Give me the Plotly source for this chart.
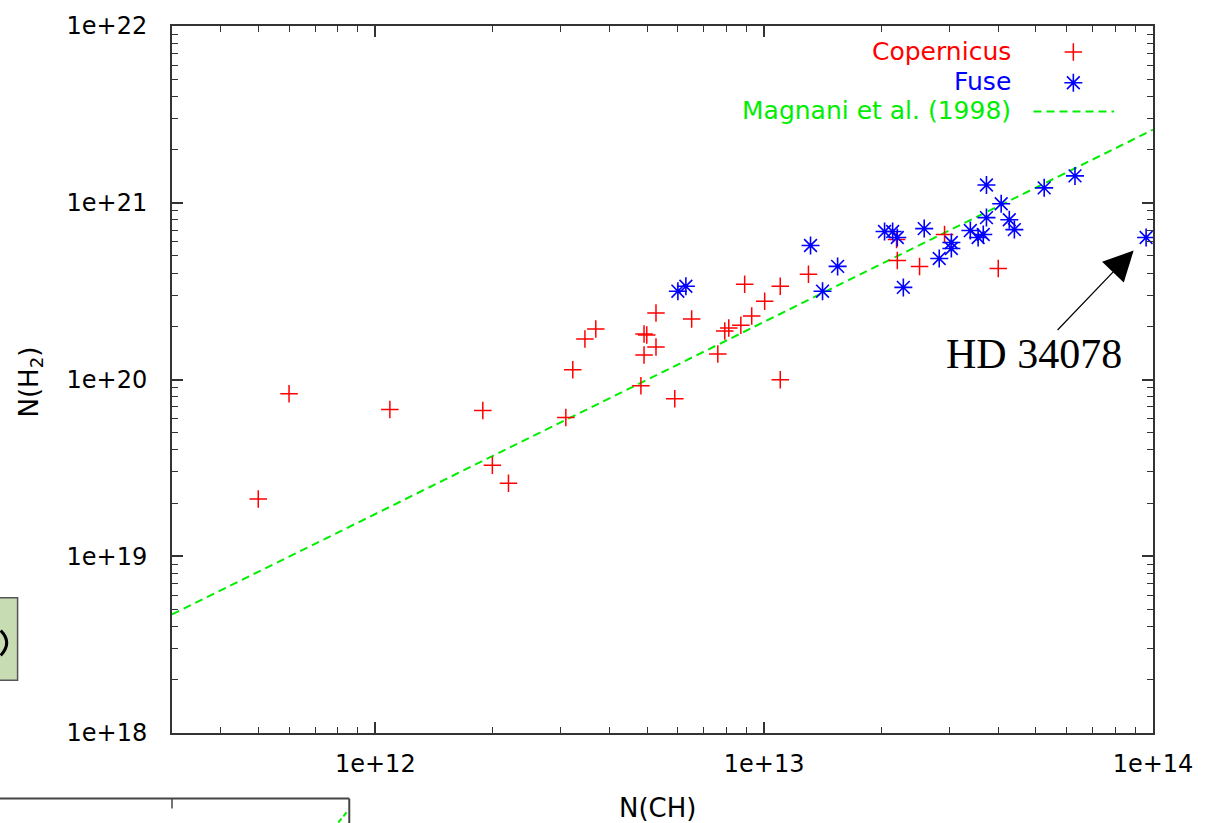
import numpy as np
import plotly.graph_objects as go

# Copernicus sight lines: N(CH) and N(H2) in cm^-2
cop_ch = [5.0e11, 6.0e11, 1.09e12, 1.89e12, 2.0e12, 2.2e12, 3.09e12, 3.22e12,
          3.46e12, 3.69e12, 4.82e12, 4.91e12, 4.91e12, 4.99e12, 5.27e12, 5.27e12,
          5.89e12, 6.51e12, 7.60e12, 7.92e12, 8.11e12, 8.71e12, 9.29e12, 1.003e13,
          8.91e12, 1.10e13, 1.10e13, 1.30e13, 2.19e13, 2.20e13, 2.51e13, 2.91e13,
          4.0e13]
cop_h2 = [2.11e19, 8.31e19, 6.76e19, 6.67e19, 3.27e19, 2.59e19, 6.09e19, 1.135e20,
          1.695e20, 1.93e20, 9.22e19, 1.378e20, 1.81e20, 1.787e20, 1.528e20, 2.375e20,
          7.79e19, 2.197e20, 1.396e20, 1.88e20, 1.954e20, 2.03e20, 2.285e20, 2.77e20,
          3.46e20, 3.37e20, 9.97e19, 3.94e20, 6.19e20, 4.72e20, 4.365e20, 6.61e20,
          4.25e20]

# FUSE sight lines
fuse_ch = [6.0e12, 6.29e12, 1.316e13, 1.413e13, 1.545e13, 2.04e13, 2.14e13, 2.20e13,
           2.28e13, 2.58e13, 2.82e13, 3.03e13, 3.03e13, 3.39e13, 3.55e13, 3.66e13,
           3.73e13, 3.73e13, 4.07e13, 4.27e13, 4.40e13, 5.25e13, 6.30e13, 9.6e13]
fuse_h2 = [3.16e20, 3.37e20, 5.73e20, 3.16e20, 4.365e20, 6.87e20, 6.87e20, 6.36e20,
           3.32e20, 7.14e20, 4.84e20, 5.96e20, 5.51e20, 6.96e20, 6.36e20, 6.61e20,
           8.24e20, 1.26e21, 9.87e20, 8.02e20, 7.05e20, 1.214e21, 1.419e21, 6.36e20]

# Magnani et al. (1998): log N(CH) = 0.92 log N(H2) - 5.7
magnani_slope = 0.92
magnani_icpt = -5.7

x_range = [3e11, 1e14]
y_range = [1e18, 1e22]

x_major = [1e12, 1e13, 1e14]
x_major_text = ["1e+12", "1e+13", "1e+14"]
y_major = [1e18, 1e19, 1e20, 1e21, 1e22]
y_major_text = ["1e+18", "1e+19", "1e+20", "1e+21", "1e+22"]

RED = "#ff0000"
BLUE = "#0000ff"
GREEN = "#00ee00"
FRAME = "#333333"
SANS = "DejaVu Sans"

CROSS_SIZE = 12.5
STAR_SIZE = 15

def minor_vals(lo, hi):
    vals = []
    for e in range(int(np.floor(np.log10(lo))), int(np.ceil(np.log10(hi)))):
        for m in range(2, 10):
            v = m * 10.0 ** e
            if lo <= v <= hi:
                vals.append(v)
    return vals

line_x = np.array(x_range)
line_y = 10 ** ((np.log10(line_x) - magnani_icpt) / magnani_slope)

fig = go.Figure()

fig.add_trace(go.Scatter(
    x=line_x, y=line_y, mode="lines",
    line=dict(color=GREEN, width=2, dash="8px,5px"),
    showlegend=False, hoverinfo="skip"))

fig.add_trace(go.Scatter(
    x=cop_ch, y=cop_h2, mode="markers", name="Copernicus",
    marker=dict(symbol="cross-thin", size=CROSS_SIZE, color=RED,
                line=dict(color=RED, width=1.5)),
    showlegend=False))

fig.add_trace(go.Scatter(
    x=fuse_ch, y=fuse_h2, mode="markers", name="Fuse",
    marker=dict(symbol="asterisk", size=STAR_SIZE, color=BLUE,
                line=dict(color=BLUE, width=1.6)),
    showlegend=False))

# Key samples drawn on an overlay axis in [0, 1] units
fig.add_trace(go.Scatter(
    x=[0.9188], y=[0.9634], xaxis="x2", yaxis="y2", mode="markers",
    marker=dict(symbol="cross-thin", size=CROSS_SIZE, color=RED,
                line=dict(color=RED, width=1.5)),
    showlegend=False, hoverinfo="skip"))
fig.add_trace(go.Scatter(
    x=[0.9188], y=[0.9198], xaxis="x2", yaxis="y2", mode="markers",
    marker=dict(symbol="asterisk", size=STAR_SIZE, color=BLUE,
                line=dict(color=BLUE, width=1.6)),
    showlegend=False, hoverinfo="skip"))
fig.add_trace(go.Scatter(
    x=[0.8782, 0.9604], y=[0.8790, 0.8790], xaxis="x2", yaxis="y2", mode="lines",
    line=dict(color=GREEN, width=2, dash="8px,5px"),
    showlegend=False, hoverinfo="skip"))

axis_common = dict(
    showgrid=False, zeroline=False, showline=True, linecolor=FRAME, linewidth=2,
    mirror="allticks", ticks="inside", ticklen=11, tickwidth=1.5, tickcolor=FRAME,
    tickfont=dict(family=SANS, size=24, color="#000000"),
)

fig.update_layout(
    width=1205, height=823,
    margin=dict(l=172, r=48, t=22, b=90),
    paper_bgcolor="white", plot_bgcolor="white",
    xaxis=dict(type="log", range=[np.log10(x_range[0]), np.log10(x_range[1])],
               tickmode="array", tickvals=x_major, ticktext=x_major_text,
               ticklabelstandoff=8,
               minor=dict(ticks="inside", ticklen=6, tickwidth=1.2, tickcolor=FRAME,
                          tickmode="array", tickvals=minor_vals(*x_range)),
               **axis_common),
    yaxis=dict(type="log", range=[np.log10(y_range[0]), np.log10(y_range[1])],
               tickmode="array", tickvals=y_major, ticktext=y_major_text,
               ticklabelstandoff=18,
               minor=dict(ticks="inside", ticklen=6, tickwidth=1.2, tickcolor=FRAME,
                          tickmode="array", tickvals=minor_vals(*y_range)),
               **axis_common),
    xaxis2=dict(overlaying="x", range=[0, 1], visible=False),
    yaxis2=dict(overlaying="y", range=[0, 1], visible=False),
)

ann = [
    dict(text="N(CH)", x=0.4954, y=-0.1055, xref="paper", yref="paper",
         xanchor="center", yanchor="middle", showarrow=False,
         font=dict(family=SANS, size=26, color="#000000")),
    dict(text="N(H<sub>2</sub>)", x=-0.1442, y=0.4965, xref="paper", yref="paper",
         xanchor="center", yanchor="middle", showarrow=False, textangle=-90,
         font=dict(family=SANS, size=26, color="#000000")),
    dict(text="Copernicus", x=0.8569, y=0.9634, xref="paper", yref="paper",
         xanchor="right", yanchor="middle", showarrow=False,
         font=dict(family=SANS, size=25, color=RED)),
    dict(text="Fuse", x=0.8569, y=0.9212, xref="paper", yref="paper",
         xanchor="right", yanchor="middle", showarrow=False,
         font=dict(family=SANS, size=25, color=BLUE)),
    dict(text="Magnani et al. (1998)", x=0.8569, y=0.8805, xref="paper", yref="paper",
         xanchor="right", yanchor="middle", showarrow=False,
         font=dict(family=SANS, size=25, color=GREEN)),
    # HD 34078 callout, pointing at the last FUSE sight line
    dict(text="HD 34078", x=np.log10(fuse_ch[-1]), y=np.log10(fuse_h2[-1]),
         xref="x", yref="y", showarrow=True, ax=-112, ay=117,
         arrowhead=2, arrowsize=5, arrowwidth=1.2, arrowcolor="#000000",
         standoff=18, font=dict(family="Liberation Serif", size=42, color="#000000")),
]
fig.update_layout(annotations=ann)

# edge of the neighbouring panels
shapes = [
    dict(type="rect", xref="paper", yref="paper", x0=-0.2, x1=-0.1574,
         y0=0.0745, y1=0.1913, fillcolor="#c8dcb4",
         line=dict(color="#555555", width=1.5), layer="below"),
    dict(type="path", xref="paper", yref="paper",
         path="M -0.1746,0.1449 Q -0.1624,0.128 -0.1746,0.1097",
         line=dict(color="#000000", width=3)),
    dict(type="line", xref="paper", yref="paper", x0=-0.2, x1=0.1807,
         y0=-0.0928, y1=-0.0928, line=dict(color="#444444", width=2)),
    dict(type="line", xref="paper", yref="paper", x0=0.1807, x1=0.1807,
         y0=-0.0928, y1=-0.15, line=dict(color="#444444", width=2)),
    dict(type="line", xref="paper", yref="paper", x0=0.0, x1=0.0,
         y0=-0.0928, y1=-0.1069, line=dict(color="#444444", width=1.5)),
    dict(type="line", xref="paper", yref="paper", x0=0.1695, x1=0.1787,
         y0=-0.1266, y1=-0.1111, line=dict(color=GREEN, width=2, dash="5px,3px")),
]
fig.update_layout(shapes=shapes)

fig.write_html("out.html")
